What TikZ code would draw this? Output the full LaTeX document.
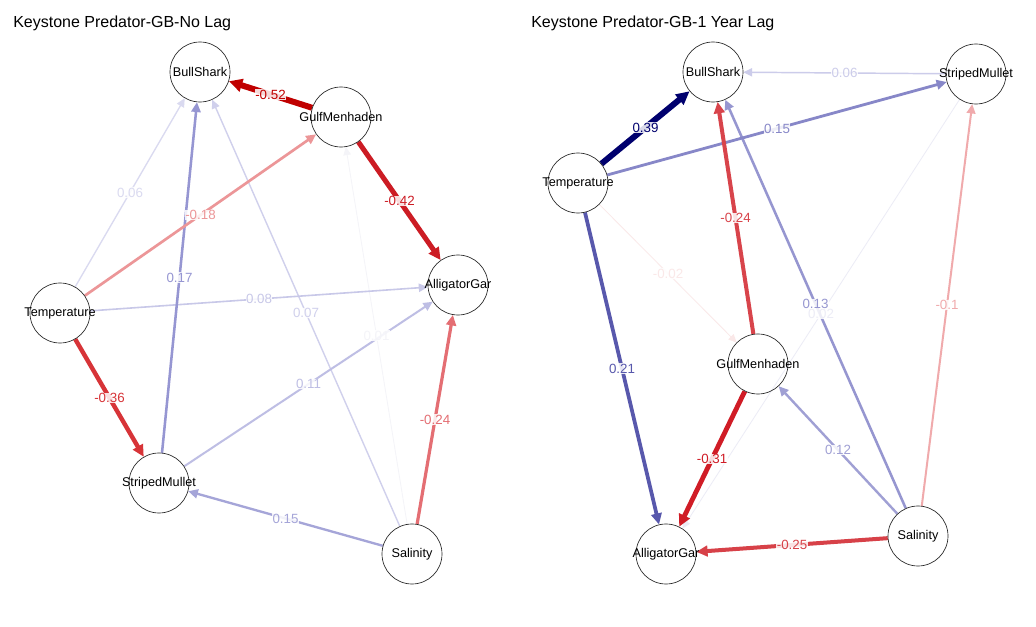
\documentclass[tikz,border=0pt]{standalone}
\usepackage{fontspec}
\setmainfont{Liberation Sans}
\usetikzlibrary{arrows.meta,backgrounds}
% left panel colours
\definecolor{cL52}{RGB}{192,0,0}
\definecolor{cL42}{RGB}{204,28,36}
\definecolor{cL36}{RGB}{215,52,56}
\definecolor{cL24}{RGB}{228,110,115}
\definecolor{cL18}{RGB}{236,150,152}
\definecolor{cP17}{RGB}{150,150,210}
\definecolor{cP15}{RGB}{165,165,216}
\definecolor{cP11}{RGB}{190,190,228}
\definecolor{cP08}{RGB}{200,200,232}
\definecolor{cP07}{RGB}{208,208,236}
\definecolor{cP06}{RGB}{218,218,240}
\definecolor{cP01}{RGB}{244,244,248}
% right panel colours
\definecolor{rP39}{RGB}{0,0,110}
\definecolor{rN31}{RGB}{208,28,38}
\definecolor{rN25}{RGB}{215,65,72}
\definecolor{rN24}{RGB}{216,68,75}
\definecolor{rP21}{RGB}{88,88,172}
\definecolor{rP15}{RGB}{135,135,200}
\definecolor{rP13}{RGB}{150,150,208}
\definecolor{rP12}{RGB}{160,160,212}
\definecolor{rN10}{RGB}{240,170,172}
\definecolor{rP06}{RGB}{204,204,234}
\definecolor{rP02}{RGB}{236,236,246}
\definecolor{rN02}{RGB}{250,232,232}
\begin{document}
\begin{tikzpicture}[x=0.75pt,y=-0.75pt,
  nd/.style={circle, draw=black!85, line width=0.5pt, minimum size=45pt, inner sep=0pt,
    label={[font=\fontsize{9.5}{11}\selectfont, inner sep=0pt]center:#1}},
  ed/.style 2 args={draw=#1, line width=#2, -{Triangle[length=5.5pt 1, width=5pt 1]}},
  lb/.style={text=#1, font=\fontsize{10}{12}\selectfont, fill=white, fill opacity=0.85,
    text opacity=1, inner sep=0.3pt, midway},
  ttl/.style={anchor=base west, font=\fontsize{12}{14}\selectfont, inner sep=0pt}]
\useasboundingbox (0,0) rectangle (1036,627);

% titles
\node[ttl] (t1) at (13,28) {Keystone Predator-GB-No Lag};
\node[ttl] (t2) at (531,28) {Keystone Predator-GB-1 Year Lag};

% left nodes
\node[nd=BullShark] (lbs) at (200,72) {};
\node[nd=GulfMenhaden] (lgm) at (341,117) {};
\node[nd=AlligatorGar] (lag) at (458,285) {};
\node[nd=Temperature] (lte) at (60,313) {};
\node[nd=StripedMullet] (lsm) at (159,483) {};
\node[nd=Salinity] (lsa) at (412,554) {};

% right nodes
\node[nd=BullShark] (rbs) at (713,72) {};
\node[nd=StripedMullet] (rsm) at (976,74) {};
\node[nd=Temperature] (rte) at (578,183) {};
\node[nd=GulfMenhaden] (rgm) at (758,364) {};
\node[nd=AlligatorGar] (rag) at (666,554) {};
\node[nd=Salinity] (rsa) at (918,536) {};

\begin{pgfonlayer}{background}
\fill[white] (0,0) rectangle (1036,627);
% left edges
\draw[ed={cP01}{0.6pt}] (lsa) -- (lgm);
\draw[ed={cP06}{1pt}] (lte) -- (lbs);
\draw[ed={cP07}{1.05pt}] (lsa) -- (lbs);
\draw[ed={cP08}{1.2pt}] (lte) -- (lag);
\draw[ed={cP11}{1.5pt}] (lsm) -- (lag);
\draw[ed={cP15}{1.75pt}] (lsa) -- (lsm);
\draw[ed={cP17}{1.9pt}] (lsm) -- (lbs);
\draw[ed={cL18}{2pt}] (lte) -- (lgm);
\draw[ed={cL24}{2.4pt}] (lsa) -- (lag);
\draw[ed={cL36}{3.3pt}] (lte) -- (lsm);
\draw[ed={cL42}{3.75pt}] (lgm) -- (lag);
\draw[ed={cL52}{4.5pt}] (lgm) -- (lbs);
% right edges
\draw[ed={rP02}{0.6pt}] (rsm) -- (rag);
\draw[ed={rN02}{0.6pt}] (rte) -- (rgm);
\draw[ed={rP06}{1.1pt}] (rsm) -- (rbs);
\draw[ed={rN10}{1.5pt}] (rsa) -- (rsm);
\draw[ed={rP12}{1.8pt}] (rsa) -- (rgm);
\draw[ed={rP13}{1.9pt}] (rsa) -- (rbs);
\draw[ed={rP15}{2.1pt}] (rte) -- (rsm);
\draw[ed={rP21}{2.8pt}] (rte) -- (rag);
\draw[ed={rN24}{3pt}] (rgm) -- (rbs);
\draw[ed={rN25}{3pt}] (rsa) -- (rag);
\draw[ed={rN31}{3.6pt}] (rgm) -- (rag);
\draw[ed={rP39}{4.5pt}] (rte) -- (rbs);
% left labels
\path (lsa) -- (lgm) node[lb=cP01] {0.01};
\path (lte) -- (lbs) node[lb=cP06] {0.06};
\path (lsa) -- (lbs) node[lb=cP07] {0.07};
\path (lte) -- (lag) node[lb=cP08] {0.08};
\path (lsm) -- (lag) node[lb=cP11] {0.11};
\path (lsa) -- (lsm) node[lb=cP15] {0.15};
\path (lsm) -- (lbs) node[lb=cP17] {0.17};
\path (lte) -- (lgm) node[lb=cL18] {-0.18};
\path (lsa) -- (lag) node[lb=cL24] {-0.24};
\path (lte) -- (lsm) node[lb=cL36] {-0.36};
\path (lgm) -- (lag) node[lb=cL42] {-0.42};
\path (lgm) -- (lbs) node[lb=cL52] {-0.52};
% right labels
\path (rsm) -- (rag) node[lb=rP02] {0.02};
\path (rte) -- (rgm) node[lb=rN02] {-0.02};
\path (rsm) -- (rbs) node[lb=rP06] {0.06};
\path (rsa) -- (rsm) node[lb=rN10] {-0.1};
\path (rsa) -- (rgm) node[lb=rP12] {0.12};
\path (rsa) -- (rbs) node[lb=rP13] {0.13};
\path (rte) -- (rsm) node[lb=rP15] {0.15};
\path (rte) -- (rag) node[lb=rP21] {0.21};
\path (rgm) -- (rbs) node[lb=rN24] {-0.24};
\path (rsa) -- (rag) node[lb=rN25] {-0.25};
\path (rgm) -- (rag) node[lb=rN31] {-0.31};
\path (rte) -- (rbs) node[lb=rP39] {0.39};
\end{pgfonlayer}
\end{tikzpicture}
\end{document}
